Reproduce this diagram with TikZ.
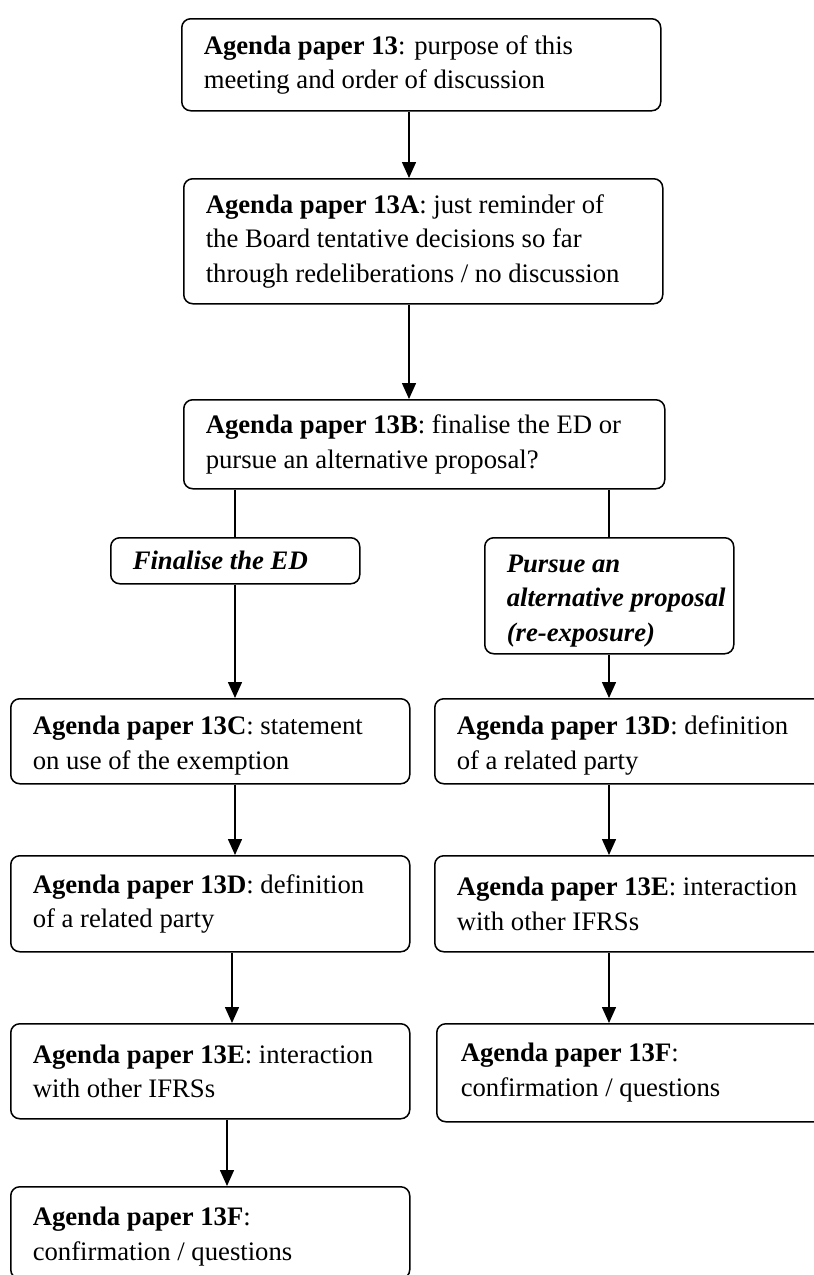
\documentclass[tikz,border=0pt]{standalone}
\usepackage{fontspec}
\setmainfont{Liberation Serif}
\usetikzlibrary{arrows.meta}
\newcommand\nsp{\spaceskip=0pt\xspaceskip=0pt\relax}
\newcommand\tpad[1]{\rule{0pt}{\dimexpr 18pt+#1pt\relax}}
\begin{document}
\begin{tikzpicture}[x=1pt,y=-1pt,
  box/.style={draw=black, line width=1.5pt, rounded corners=9pt, fill=white,
    anchor=north west, align=flush left, inner xsep=22pt, inner ysep=0pt,
    font=\fontsize{26.7}{34.5}\selectfont},
  lab/.style={box, font=\fontsize{26.7}{34.5}\selectfont\bfseries\itshape},
  arr/.style={line width=1.5pt, -{Triangle[length=16pt,width=14pt]}},
  ln/.style={line width=1.5pt}]
\clip (0,0) rectangle (814,1275);
% column coordinates for connectors
\coordinate (cA) at (409,0);
\coordinate (cL) at (235,0);
\coordinate (cL2) at (232,0);
\coordinate (cL3) at (227,0);
\coordinate (cR) at (609,0);
% top chain
\node[box, text width=435pt, minimum height=92pt] (b1) at (181,18)
  {\nsp\textbf{Agenda paper 13}: purpose of this\\meeting and order of discussion};
\node[box, text width=435pt, minimum height=125pt] (b2) at (183,178)
  {\nsp\textbf{Agenda paper 13A}: just reminder of\\the Board tentative decisions so far\\through redeliberations / no discussion};
\node[box, text width=437pt, minimum height=89pt] (b3) at (183,399)
  {\nsp\textbf{Agenda paper 13B}: finalise the ED or\\pursue an alternative proposal?};
% branch labels
\node[lab, text width=205pt, minimum height=46pt] (fin) at (110,537)
  {\nsp Finalise the ED};
\node[lab, text width=205pt, minimum height=116pt] (pur) at (484,537)
  {\nsp\tpad{10}Pursue an\\\mbox{alternative proposal}\\(re-exposure)};
% left column
\node[box, text width=355pt, minimum height=85pt] (l1) at (10,698)
  {\nsp\tpad{9}\textbf{Agenda paper 13C}: statement\\on use of the exemption};
\node[box, text width=355pt, minimum height=96pt] (l2) at (10,855)
  {\nsp\textbf{Agenda paper 13D}: definition\\of a related party};
\node[box, text width=355pt, minimum height=95pt] (l3) at (10,1023)
  {\nsp\textbf{Agenda paper 13E}: interaction\\with other IFRSs};
\node[box, text width=355pt, minimum height=92pt] (l4) at (10,1186)
  {\nsp\tpad{8}\textbf{Agenda paper 13F}:\\confirmation / questions};
% right column
\node[box, text width=362pt, minimum height=85pt] (r1) at (434,698)
  {\nsp\tpad{9}\textbf{Agenda paper 13D}: definition\\of a related party};
\node[box, text width=362pt, minimum height=96pt] (r2) at (434,855)
  {\nsp\textbf{Agenda paper 13E}: interaction\\with other IFRSs};
\node[box, inner xsep=24pt, text width=356pt, minimum height=98pt] (r3) at (436,1023)
  {\nsp\textbf{Agenda paper 13F}:\\confirmation / questions};
% connectors
\draw[arr] (b1.south -| cA) -- (b2.north -| cA);
\draw[arr] (b2.south -| cA) -- (b3.north -| cA);
\draw[ln] (b3.south -| cL) -- (fin.north -| cL);
\draw[ln] (b3.south -| cR) -- (pur.north -| cR);
\draw[arr] (fin.south -| cL) -- (l1.north -| cL);
\draw[arr] (l1.south -| cL) -- (l2.north -| cL);
\draw[arr] (l2.south -| cL2) -- (l3.north -| cL2);
\draw[arr] (l3.south -| cL3) -- (l4.north -| cL3);
\draw[arr] (pur.south -| cR) -- (r1.north -| cR);
\draw[arr] (r1.south -| cR) -- (r2.north -| cR);
\draw[arr] (r2.south -| cR) -- (r3.north -| cR);
\end{tikzpicture}
\end{document}
